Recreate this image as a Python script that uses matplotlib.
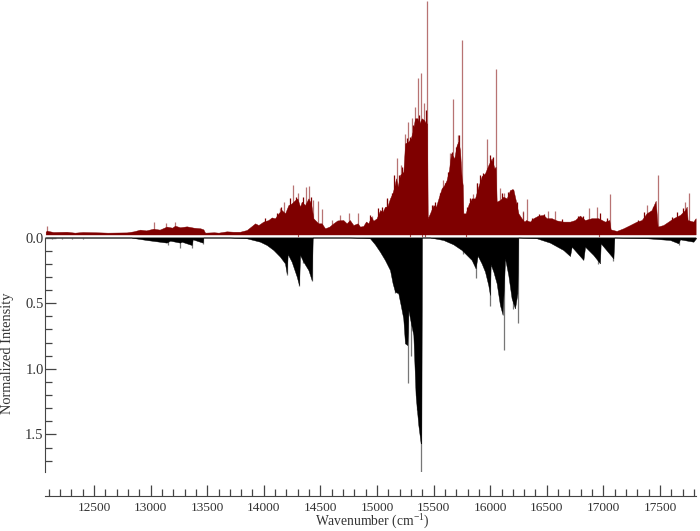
import matplotlib
matplotlib.use('Agg')
import matplotlib.pyplot as plt

plt.rcParams['font.family'] = ['Liberation Serif', 'DejaVu Serif']
plt.rcParams['mathtext.fontset'] = 'custom'
plt.rcParams['mathtext.rm'] = 'Liberation Serif'
plt.rcParams['mathtext.default'] = 'rm'

# upper (measured) spectrum: envelope and the tall single lines
upper_x = [12073, 12082, 12140, 12259, 12330, 12400, 12553, 12620, 12789, 12850, 12907, 12960, 13024, 13080,
           13142, 13190, 13216, 13260, 13319, 13380, 13440, 13466, 13481, 13560, 13600, 13672, 13730,
           13790, 13849, 13893, 13923, 13952, 13996, 14040, 14070, 14099, 14129, 14158, 14188, 14217, 14246,
           14276, 14297, 14320, 14335, 14364, 14394, 14417, 14438, 14453, 14482, 14511, 14541, 14579,
           14614, 14650, 14702, 14732, 14760, 14791, 14829,
           14850, 14879, 14903, 14924, 14947, 14968, 14997, 15027, 15050, 15071, 15091, 15115, 15136, 15153,
           15168, 15183, 15203, 15233, 15248, 15277, 15298, 15315, 15336, 15357, 15374, 15395, 15415, 15433,
           15442, 15448, 15468, 15498, 15521, 15548, 15571, 15595, 15615, 15636, 15654, 15683, 15704, 15719,
           15733, 15748, 15757, 15763, 15783, 15807, 15836, 15866, 15895, 15925, 15954, 15984, 16013, 16037,
           16048, 16057, 16087, 16116, 16146, 16175, 16204, 16225, 16249, 16278, 16302,
           16316, 16351, 16381, 16425, 16469, 16499, 16543, 16587, 16646, 16705, 16749, 16793, 16837, 16896,
           16955, 17014, 17052, 17064, 17117, 17176, 17235, 17294, 17338, 17382, 17426, 17462, 17479, 17529,
           17574, 17618, 17677, 17721, 17736, 17744, 17794, 17815]
upper_y = [.044, .052, .042, .044, .037, .042, .039, .037, .039, .047, .060, .054, .067, .060,
           .083, .075, .090, .078, .085, .075, .070, .062, .037, .040, .037, .047, .044,
           .044, .057, .087, .108, .095, .121, .133, .153, .146, .184, .209, .184, .247, .260,
           .285, .298, .235, .273, .247, .298, .260, .146, .133, .108, .108, .070, .083,
           .108, .130, .133, .108, .133, .095, .108,
           .083, .088, .122, .108, .159, .128, .146, .209, .197, .235, .235, .298, .336, .387,
           .451, .387, .476, .501, .717, .730, .755, .806, .908, .908, .869, .908, .895, .869,
           .869, .146, .184, .247, .235, .311, .374, .400, .438, .514, .641, .603, .705, .730,
           .667, .451, .400, .184, .184, .247, .298, .298, .387, .468, .489, .552, .603, .527,
           .539, .273, .286, .311, .298, .362, .367, .286, .184, .146, .121,
           .133, .121, .147, .167, .172, .147, .147, .130, .121, .121, .133, .167, .133, .147,
           .147, .121, .133, .062, .050, .070, .095, .121, .133, .184, .209, .280, .083, .095,
           .121, .147, .172, .209, .235, .133, .121, .147]
upper_line_x = [15442, 15754, 16048, 15674, 15969, 15392, 15359, 15174, 15209, 15250, 15277, 15306, 15336,
                15412, 14829, 15645, 15713, 15816, 15845, 15886, 16087, 16122, 16293, 15586,
                16322, 16292, 16510, 16569, 16876, 16940, 17055, 17479, 17388, 17756, 17721,
                12082, 13033, 13136, 13216, 14255, 14305, 14373, 14400, 14438, 14476, 14517, 14182, 14143,
                14605, 14752, 14673, 14953, 15085]
upper_line_y = [1.801, 1.504, 1.281, 1.052, .750, 1.250, 1.212, .603, .552, .788, .882, .908, .996,
                1.022, .184, .646, .781, .260, .331, .413, .380, .336, .197, .438,
                .291, .204, .204, .204, .227, .230, .331, .476, .248, .341, .273,
                .088, .116, .113, .116, .400, .336, .387, .395, .286, .281, .215, .273, .222,
                .133, .189, .171, .164, .293]
# short solid teeth standing on the envelope
upper_tooth_x = [14011, 14114, 14149, 14232, 14285, 14350, 14414,
                 14938, 15012, 15041, 15086, 15130, 15153, 15197, 15224, 15262, 15292, 15321, 15374, 15430,
                 15483, 15512, 15557, 15601, 15624, 15660, 15695, 15724, 15792, 15822, 15880, 15910, 15939,
                 15998, 16028, 16101, 16160, 16196, 16234,
                 16366, 16434, 16475, 16631, 16778, 16823, 16970, 17029, 17308, 17358, 17441, 17603, 17653, 17706]
upper_tooth_y = [.146, .184, .230, .298, .311, .311, .311,
                 .171, .222, .235, .298, .336, .476, .476, .539, .755, .768, .857, .933, .971,
                 .248, .273, .336, .413, .501, .654, .692, .781, .235, .298, .413, .476, .489,
                 .628, .616, .336, .349, .370, .273,
                 .146, .176, .176, .138, .166, .166, .184, .146, .133, .197, .235, .159, .197, .222]
upper_dip_x = [15292, 15394, 15420, 16964, 15790, 14300]
upper_base = 0.023

# lower (calculated) spectrum, drawn downwards
lower_x = [12073, 12833, 12836, 12965, 13142, 13172, 13260, 13275, 13363, 13372, 13460, 13466, 13702,
           13849, 13967, 14026, 14085, 14143, 14187, 14202, 14211, 14246, 14291, 14311, 14320, 14349, 14394,
           14423, 14432, 14674, 14762, 14879,
           14938, 14982, 15026, 15070, 15115, 15138, 15159, 15188, 15209, 15232, 15247, 15268, 15277, 15297,
           15321, 15341, 15365, 15386, 15391, 15397,
           15468, 15586, 15674, 15748, 15792, 15836, 15871, 15889, 15924, 15954, 15983, 15998, 16004, 16028,
           16057, 16086, 16110, 16131, 16160, 16189, 16219, 16240, 16248,
           16411, 16528, 16646, 16705, 16720, 16823, 16838, 16911, 16970, 16976, 17088, 17097, 17391, 17589,
           17662, 17677, 17795, 17818]
lower_y = [0, 0, .002, .019, .039, .024, .039, .032, .057, .014, .039, 0, 0,
           .006, .032, .057, .095, .146, .197, .273, .126, .184, .298, .362, .133, .184, .248,
           .324, 0, 0, 0, .003,
           .006, .052, .108, .171, .248, .349, .413, .425, .514, .616, .806, .819, .552, .641,
           .743, 1.200, 1.428, 1.568, 1.568, 0,
           0, .019, .052, .095, .133, .171, .235, .138, .197, .260, .362, .438, .204, .260,
           .349, .514, .590, .159, .286, .463, .540, .425, 0,
           .006, .039, .095, .141, .070, .171, .070, .133, .197, .044, .159, 0, .006, .019,
           .044, .014, .032, .006]
lower_line_x = [15277, 15391, 15297, 15159, 15356, 15877, 16001, 16122, 16243, 16204, 15760, 17088, 16955,
                17668, 13157, 13263, 13363, 13460, 14202, 14311, 14423, 14349, 12126, 12214, 12303, 12406]
lower_line_y = [1.111, 1.784, .900, .425, 1.314, .306, .519, .857, .654, .545, .128, .176, .202,
                .057, .057, .077, .077, .049, .286, .367, .329, .197, .008, .008, .008, .008]

red = '#7f0000'
axis_col = '#444444'

fig = plt.figure(figsize=(7, 5.31), dpi=100)
ax = fig.add_axes([45 / 700, 1 - 472 / 531, 651 / 700, 472 / 531])
ax.patch.set_alpha(0)

ax.fill_between(upper_x, [-upper_base] * len(upper_x), [-v for v in upper_y], color=red, lw=0.3)
ax.vlines(upper_tooth_x, -upper_base, [-v for v in upper_tooth_y], color=red, lw=0.9)
ax.vlines(upper_line_x, -upper_base, [-v for v in upper_line_y], color=red, lw=0.9, alpha=0.55)
ax.vlines(upper_dip_x, -upper_base, -0.006, color=red, lw=0.8, alpha=0.7)
ax.axhline(0, color='#999999', lw=1.1)
# grey lines go under the black so only their tips show
ax.vlines(lower_line_x, 0, lower_line_y, color='#777777', lw=0.9, zorder=2)
ax.fill_between(lower_x, 0, lower_y, color='black', lw=0.3, zorder=3)

ax.set_xlim(12067, 17818)
ax.set_ylim(1.786, -1.809)

for s in ['top', 'right']:
    ax.spines[s].set_visible(False)
ax.spines['left'].set_bounds(0, 1.786)
ax.spines['left'].set_color(axis_col)
ax.spines['bottom'].set_position(('outward', 17.3))
ax.spines['bottom'].set_color(axis_col)

ax.set_xticks(list(range(12500, 18000, 500)))
ax.set_xticks(list(range(12100, 17900, 100)), minor=True)
ax.set_yticks([0, 0.5, 1.0, 1.5])
ax.set_yticklabels(['0.0', '0.5', '1.0', '1.5'])
ax.set_yticks([i / 10 for i in range(1, 18)], minor=True)
ax.tick_params(axis='both', which='major', direction='in', length=8, width=0.9, color=axis_col,
               labelcolor='#333333', pad=1)
ax.tick_params(axis='both', which='minor', direction='in', length=5, width=0.9, color=axis_col)
ax.tick_params(axis='x', which='major', pad=4, labelsize=9.6)
ax.tick_params(axis='y', which='major', labelsize=10.5)

ax.set_xlabel('Wavenumber (cm$^{-1}$)', fontsize=9.8, color='#333333')
ax.xaxis.set_label_coords((372 - 45) / 651, -49.5 / 472)
ax.set_ylabel('Normalized Intensity', fontsize=10.4, color='#333333')
ax.yaxis.set_label_coords((8 - 45) / 651, 1 - 353 / 472)
ax.yaxis.label.set_verticalalignment('center')
ax.xaxis.label.set_verticalalignment('center')

fig.savefig('out.png', dpi=100)
